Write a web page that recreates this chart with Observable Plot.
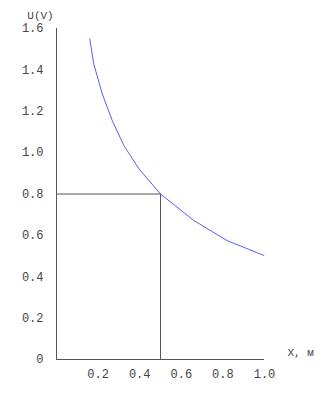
<!DOCTYPE html>
<html>
<head>
<meta charset="utf-8">
<script src="https://cdn.jsdelivr.net/npm/d3@7"></script>
<script src="https://cdn.jsdelivr.net/npm/@observablehq/plot@0.6"></script>
<style>
  html, body { margin: 0; padding: 0; background: #fff; }
</style>
</head>
<body>
<div id="chart"></div>
<script>
// Curve data
const xValues = [0.160, 0.179, 0.220, 0.268, 0.324, 0.396, 0.500, 0.660, 0.820, 0.997];
const uValues = [1.550, 1.429, 1.284, 1.155, 1.034, 0.922, 0.800, 0.672, 0.575, 0.503];

// Reference point
const refX = 0.5;
const refU = 0.8;

// Ticks and labels
const xTicks = [0.2, 0.4, 0.6, 0.8, 1.0];
const yTicks = [0, 0.2, 0.4, 0.6, 0.8, 1.0, 1.2, 1.4, 1.6];
const xLabel = "X, м";
const yLabel = "U(V)";

const curve = xValues.map((x, i) => ({x, u: uValues[i]}));
const refPath = [{x: 0, u: refU}, {x: refX, u: refU}, {x: refX, u: 0}];

const font = "'Liberation Mono', 'DejaVu Sans Mono', monospace";
const textColor = "#444";
const axisColor = "#555";

const chart = Plot.plot({
  width: 336,
  height: 400,
  marginLeft: 56,
  marginRight: 72,
  marginTop: 28,
  marginBottom: 41,
  style: {fontFamily: font, fontSize: "12px", color: textColor, background: "#fff"},
  x: {domain: [0, 1]},
  y: {domain: [0, 1.6]},
  marks: [
    Plot.axisY(yTicks, {
      tickSize: 0, tickPadding: 13, label: null,
      tickFormat: d => d === 0 ? "0" : d.toFixed(1),
      fill: textColor, fontSize: 12
    }),
    Plot.axisX(xTicks, {
      tickSize: 0, tickPadding: 10, label: null,
      tickFormat: d => d.toFixed(1),
      fill: textColor, fontSize: 12
    }),
    Plot.line(refPath, {x: "x", y: "u", stroke: axisColor, strokeWidth: 1}),
    Plot.ruleX([0], {stroke: axisColor, strokeWidth: 1}),
    Plot.ruleY([0], {stroke: axisColor, strokeWidth: 1}),
    Plot.line(curve, {x: "x", y: "u", stroke: "#5b5bff", strokeWidth: 1}),
    Plot.text([yLabel], {frameAnchor: "top-left", dx: -16, dy: -17, textAnchor: "middle", fill: textColor, fontSize: 11}),
    Plot.text([xLabel], {frameAnchor: "bottom-right", dx: 23, dy: -4, textAnchor: "start", fill: textColor, fontSize: 11})
  ]
});
document.getElementById("chart").appendChild(chart);
</script>
</body>
</html>
